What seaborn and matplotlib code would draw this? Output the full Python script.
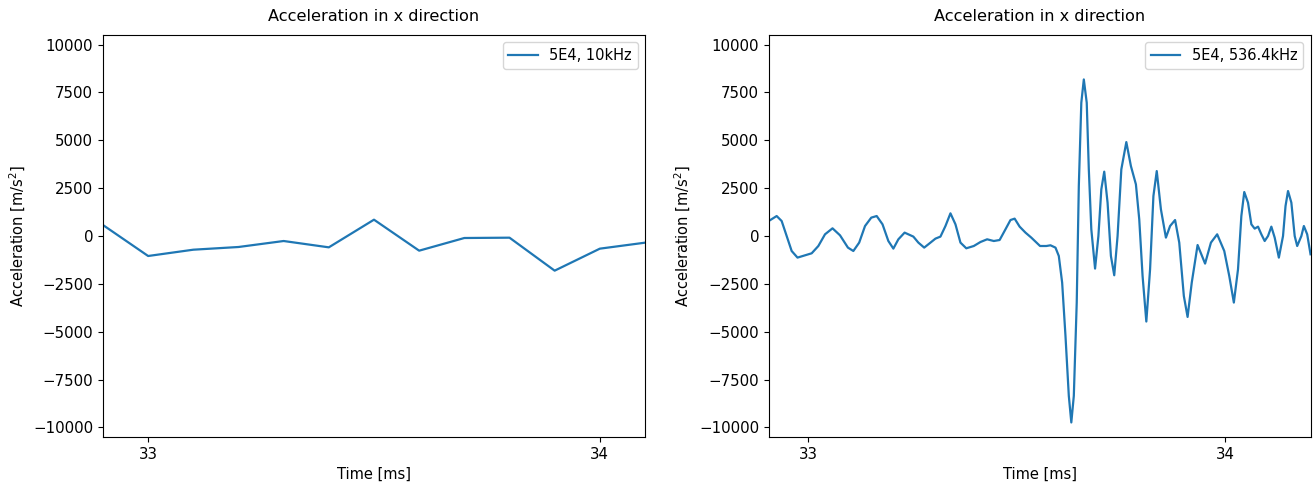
import matplotlib
matplotlib.use("Agg")
import matplotlib.pyplot as plt
import seaborn as sns
import pandas as pd

plt.rcParams['font.family'] = ['DejaVu Sans']

# Left panel: 10 kHz sampling
t_low = [32.9, 33.0, 33.1, 33.2, 33.3, 33.4, 33.5, 33.6, 33.7, 33.8, 33.9, 34.0, 34.1]
a_low = [574, -1044, -715, -574, -261, -592, 853, -766, -104, -87, -1810, -661, -348]
label_low = "5E4, 10kHz"

# Right panel: 536.4 kHz sampling (points traced from the signal)
t_high = [32.905, 32.924, 32.936, 32.948, 32.960, 32.974, 33.008, 33.024, 33.040, 33.058,
          33.076, 33.095, 33.108, 33.122, 33.136, 33.151, 33.164, 33.178, 33.192, 33.204,
          33.216, 33.231, 33.252, 33.264, 33.278, 33.291, 33.305, 33.317, 33.329, 33.341,
          33.353, 33.365, 33.379, 33.397, 33.413, 33.429, 33.445, 33.459, 33.473, 33.485,
          33.495, 33.507, 33.521, 33.535, 33.556, 33.571, 33.581, 33.593, 33.601, 33.609,
          33.617, 33.625, 33.631, 33.637, 33.644, 33.649, 33.655, 33.661, 33.668, 33.673,
          33.679, 33.688, 33.696, 33.703, 33.710, 33.718, 33.726, 33.734, 33.742, 33.751,
          33.763, 33.774, 33.786, 33.794, 33.802, 33.811, 33.820, 33.828, 33.836, 33.846,
          33.858, 33.868, 33.880, 33.890, 33.901, 33.910, 33.920, 33.934, 33.952, 33.966,
          33.981, 33.998, 34.010, 34.021, 34.031, 34.039, 34.046, 34.055, 34.063, 34.071,
          34.079, 34.087, 34.095, 34.103, 34.111, 34.119, 34.129, 34.139, 34.145, 34.151,
          34.159, 34.167, 34.173, 34.183, 34.189, 34.197, 34.205]
a_high = [783, 1044, 783, 0, -783, -1128, -903, -522, 89, 402,
          37, -606, -783, -345, 522, 960, 1044, 611, -261, -658,
          -172, 177, -31, -345, -606, -381, -136, -31, 522, 1185,
          611, -345, -642, -522, -313, -172, -261, -209, 350, 835,
          908, 489, 177, -84, -522, -522, -485, -606, -1044, -2433,
          -5220, -8352, -9741, -8352, -3477, 2610, 6963, 8180, 6963, 3482,
          350, -1702, 0, 2438, 3362, 1743, -1044, -2051, 0, 3482,
          4907, 3654, 2699, 872, -2088, -4468, -1738, 2088, 3393, 1394,
          -84, 522, 835, -345, -3132, -4228, -2433, -470, -1441, -345,
          89, -783, -2088, -3477, -1738, 1044, 2299, 1743, 611, 386,
          489, 89, -261, 0, 489, -84, -1128, 0, 1566, 2351,
          1743, 0, -522, 0, 522, 89, -955]
label_high = "5E4, 536.4kHz"

title = "Acceleration in x direction"
xlabel = "Time [ms]"
ylabel = "Acceleration [m/s$^2$]"
yticks = [-10000, -7500, -5000, -2500, 0, 2500, 5000, 7500, 10000]
xticks = [33, 34]

fig = plt.figure(figsize=(13.15, 4.92), dpi=100)
ax1 = fig.add_axes([0.0783, 0.1118, 0.4122, 0.817])
ax2 = fig.add_axes([0.5846, 0.1118, 0.4120, 0.817])

color = "#1f77b4"
for ax, t, a, lab in [(ax1, t_low, a_low, label_low), (ax2, t_high, a_high, label_high)]:
    df = pd.DataFrame({"t": t, "a": a})
    sns.lineplot(data=df, x="t", y="a", ax=ax, color=color, linewidth=1.6, label=lab)
    ax.set_xlim(min(t), max(t))
    ax.set_ylim(-10500, 10500)
    ax.set_yticks(yticks)
    ax.set_xticks(xticks)
    ax.tick_params(labelsize=10.8)
    ax.set_title(title, fontsize=11.6, pad=10)
    ax.set_xlabel(xlabel, fontsize=10.5)
    ax.set_ylabel(ylabel, fontsize=10.5)
    ax.legend(loc="upper right", fontsize=10.5)

fig.savefig("out.png", dpi=100)
